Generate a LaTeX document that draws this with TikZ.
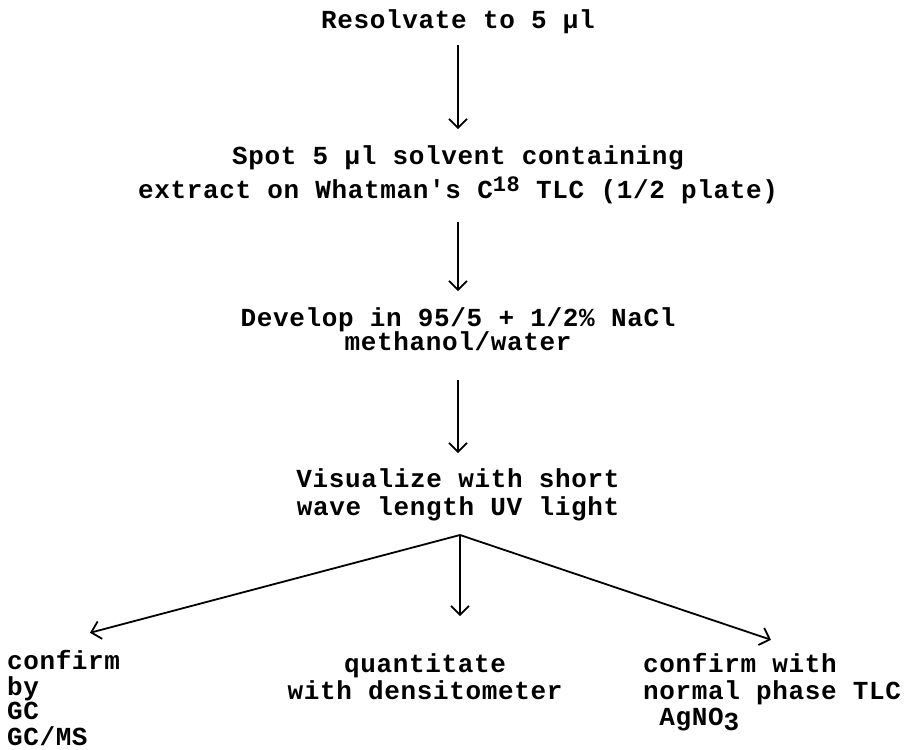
\documentclass[tikz,border=0pt]{standalone}
\usepackage{fontspec}
\setmonofont{Liberation Mono}[LetterSpace=2.5]
\usetikzlibrary{arrows.meta,calc}
\newcommand{\supnum}[1]{\raisebox{7pt}{\fontsize{22}{22}\selectfont #1}}
\newcommand{\subnum}[1]{\raisebox{-5pt}{#1}}
\begin{document}
\begin{tikzpicture}[x=1pt,y=-1pt,
  txt/.style={inner sep=0pt, outer sep=0pt, anchor=base,
    font=\ttfamily\bfseries\fontsize{26}{24}\selectfont},
  arr/.style={line width=1.8pt, -{Straight Barb[length=9pt,width=18pt]}}]
\useasboundingbox (0,0) rectangle (911,750);

\node[txt] (n1) at (458,28) {\begin{tabular}[t]{@{}c@{}}Resolvate to 5 µl\end{tabular}};
\node[txt] (n2) at (458,164) {\begin{tabular}[t]{@{}c@{}}Spot 5 µl solvent containing\\[6pt]
  extract on Whatman's C\supnum{18} TLC (1/2 plate)\end{tabular}};
\node[txt] (n3) at (458,326) {\begin{tabular}[t]{@{}c@{}}Develop in 95/5 + 1/2\% NaCl\\[-2pt]
  methanol/water\end{tabular}};
\node[txt] (n4) at (458,487) {\begin{tabular}[t]{@{}c@{}}Visualize with short\\[2pt]
  wave length UV light\end{tabular}};

\node[txt, anchor=base west] (nL) at (7,669) {\begin{tabular}[t]{@{}l@{}}confirm\\by\\GC\\GC/MS\end{tabular}};
\node[txt] (nM) at (425,672) {\begin{tabular}[t]{@{}c@{}}quantitate\\[1pt]with densitometer\end{tabular}};
\node[txt, anchor=base west] (nR) at (643,672) {\begin{tabular}[t]{@{}l@{}}confirm with\\[1pt]normal phase TLC\\[2pt]\hspace{16.3pt}AgNO\subnum{3}\end{tabular}};

\coordinate (br) at (460,535);

\draw[arr] ([yshift=-10pt]n1.south) -- ([yshift=16pt]n2.north);
\draw[arr] ([yshift=-16pt]n2.south) -- ([yshift=16pt]n3.north);
\draw[arr] ([yshift=-23pt]n3.south) -- ([yshift=15pt]n4.north);

\draw[arr] (br) -- ($(nL.north west)+(83,-17)$);
\draw[arr, shorten >=37pt] (br) -- (br |- nM.north);
\draw[arr] (br) -- ($(nR.north west)+(128,-13)$);
\end{tikzpicture}
\end{document}
